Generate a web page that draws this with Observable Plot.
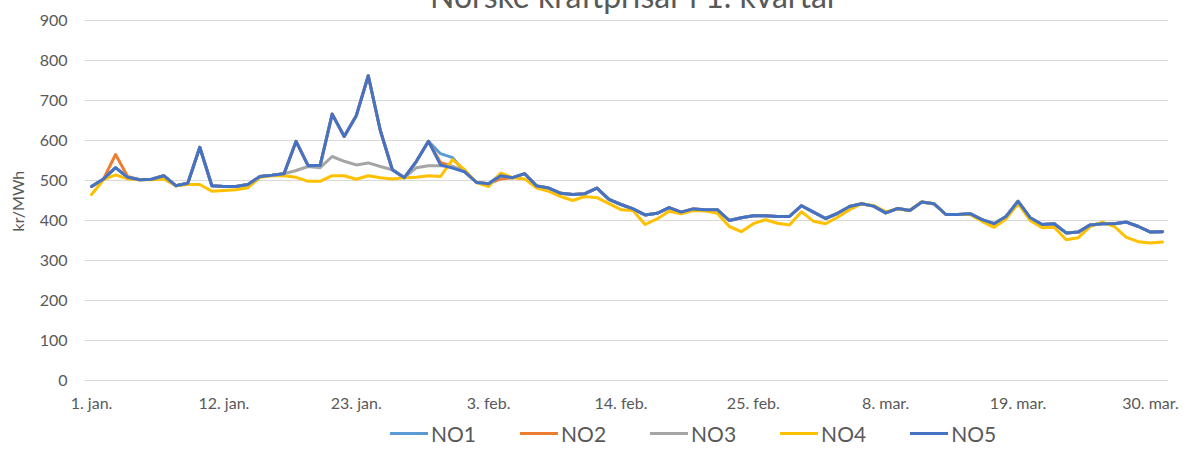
<!DOCTYPE html>
<html>
<head>
<meta charset="utf-8">
<script src="https://cdn.jsdelivr.net/npm/d3@7"></script>
<script src="https://cdn.jsdelivr.net/npm/@observablehq/plot@0.6"></script>
<style>
  html, body { margin: 0; padding: 0; background: #fff; }
  body { width: 1188px; height: 454px; overflow: hidden; position: relative; font-family: Lato, "Open Sans", sans-serif; }
  #title { position: absolute; left: 430px; top: -20px; font-size: 32px; line-height: 1; color: #595959; white-space: nowrap; }
  #chart { position: absolute; left: 0; top: 0; }
  #legend { position: absolute; left: 390px; top: 418px; display: flex; align-items: center; height: 30px; }
  .item { display: flex; align-items: center; margin-right: 44px; font-size: 21px; color: #595959; }
  .item:last-child { margin-right: 0; }
  .swatch { display: inline-block; width: 38px; height: 3px; margin-right: 3px; }
</style>
</head>
<body>
<div id="title">Norske kraftprisar i 1. kvartal</div>
<div id="chart"></div>
<div id="legend"></div>
<script>
// Zones and colours
const zones = ["NO1", "NO2", "NO3", "NO4", "NO5"];
const zoneColors = ["#5B9BD5", "#ED7D31", "#A5A5A5", "#FFC000", "#4472C4"];

// Daily prices, kr/MWh, 1 Jan – 31 Mar (90 days)
const NO1 = [485,504,532,508,502,503,512,487,493,583,487,485,485,490,510,513,517,598,537,538,
  666,610,662,762,625,527,507,548,598,567,557,522,495,492,515,507,517,486,481,468,
  465,467,481,453,440,429,414,418,432,421,429,427,427,400,407,412,412,410,410,437,
  421,405,418,435,442,436,419,430,425,446,442,415,415,417,402,392,410,448,407,390,
  392,369,371,389,392,392,396,385,371,372];
const NO2 = [485,504,565,510,502,503,512,487,493,583,487,485,485,490,510,513,517,598,537,538,
  666,610,662,762,625,527,507,548,598,545,535,522,495,492,504,507,517,486,481,468,
  465,467,481,453,440,429,414,418,432,421,429,427,427,400,407,412,412,410,410,437,
  421,405,418,435,442,436,419,430,425,446,442,415,415,417,402,392,410,448,407,390,
  392,369,371,389,392,392,396,385,371,372];
const NO3 = [485,504,532,508,502,503,512,487,493,583,487,485,485,490,510,513,517,525,535,532,
  560,548,539,544,535,527,507,532,537,537,535,522,495,492,512,507,517,486,481,468,
  465,467,481,453,440,429,414,418,432,421,429,427,427,400,407,412,412,410,410,437,
  421,405,418,435,442,436,419,430,425,446,442,415,415,417,402,392,410,448,407,390,
  392,369,371,389,392,392,396,385,371,372];
const NO4 = [465,502,514,504,502,502,504,487,490,490,473,475,477,482,508,512,512,508,498,498,
  512,512,503,512,507,504,507,508,512,510,552,527,495,485,519,507,504,481,473,460,
  450,460,457,442,427,425,390,404,423,417,425,424,418,385,372,392,402,393,389,422,
  398,392,408,427,442,437,422,429,425,446,442,415,415,415,398,383,404,442,400,382,
  383,352,357,385,396,385,358,347,344,346];
const NO5 = [485,504,532,508,502,503,512,487,493,583,487,485,485,490,510,513,517,598,537,538,
  666,610,662,762,625,527,507,548,598,539,531,522,495,492,512,507,517,486,481,468,
  465,467,481,453,440,429,414,418,432,421,429,427,427,400,407,412,412,410,410,437,
  421,405,418,435,442,436,419,430,425,446,442,415,415,417,402,392,410,448,407,390,
  392,369,371,389,392,392,396,385,371,372];

// Axis ticks
const xTickDates = ["2019-01-01","2019-01-12","2019-01-23","2019-02-03","2019-02-14","2019-02-25","2019-03-08","2019-03-19","2019-03-30"];
const xTickLabels = ["1. jan.","12. jan.","23. jan.","3. feb.","14. feb.","25. feb.","8. mar.","19. mar.","30. mar."];
const yTicks = [0,100,200,300,400,500,600,700,800,900];

const DAY = 864e5;
const start = Date.UTC(2019, 0, 1);
const dates = NO5.map((_, i) => new Date(start + i * DAY));
const seriesValues = [NO1, NO2, NO3, NO4, NO5];
const data = zones.flatMap((z, k) => seriesValues[k].map((v, i) => ({date: dates[i], value: v, zone: z})));
const tickDates = xTickDates.map(s => new Date(s + "T00:00:00Z"));
const labelMap = new Map(tickDates.map((d, i) => [+d, xTickLabels[i]]));

const chart = Plot.plot({
  width: 1188,
  height: 420,
  marginLeft: 85,
  marginRight: 20,
  marginTop: 20,
  marginBottom: 40,
  style: {fontFamily: "Lato, 'Open Sans', sans-serif", fontSize: "16px", color: "#595959", background: "transparent", overflow: "visible"},
  x: {type: "utc", domain: [new Date(start - DAY / 2), new Date(start + (NO5.length - 0.5) * DAY)],
      ticks: tickDates, tickFormat: d => labelMap.get(+d), tickSize: 0, tickPadding: 17, label: null},
  y: {domain: [0, 900], ticks: yTicks, tickSize: 0, tickPadding: 18, label: null},
  color: {domain: zones, range: zoneColors},
  marks: [
    Plot.ruleY(yTicks, {stroke: "#D9D9D9", strokeWidth: 1}),
    Plot.line(data, {x: "date", y: "value", z: "zone", stroke: "zone", strokeWidth: 3, strokeLinejoin: "round", strokeLinecap: "round"}),
    Plot.text(["kr/MWh"], {frameAnchor: "left", rotate: -90, dx: -67, dy: 31, fill: "#595959", fontSize: 16})
  ]
});
document.getElementById("chart").appendChild(chart);

const legend = document.getElementById("legend");
zones.forEach((z, k) => {
  const item = document.createElement("div");
  item.className = "item";
  const sw = document.createElement("span");
  sw.className = "swatch";
  sw.style.background = zoneColors[k];
  const t = document.createElement("span");
  t.textContent = z;
  item.appendChild(sw);
  item.appendChild(t);
  legend.appendChild(item);
});
</script>
</body>
</html>
